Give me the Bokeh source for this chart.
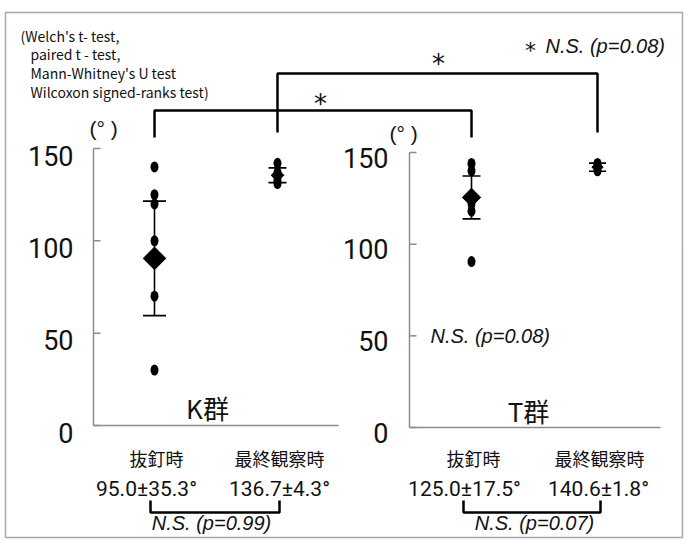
import math
from bokeh.plotting import figure
from bokeh.models import Range1d
from bokeh.embed import file_html
from bokeh.resources import INLINE
from bokeh.core.properties import value

# ---------------- data ----------------
groups = ["K群", "T群"]
timepoints = ["抜釘時", "最終観察時"]
k_pull = [140, 125, 120, 100, 70, 30]
k_final = [142, 137, 135, 133, 131]
t_pull = [144, 140, 122, 118, 90.5]
t_final = [144, 142.5, 140]
k_means = [90.5, 135.5]
k_sds = [31.0, 4.0]
t_means = [125.5, 142.0]
t_sds = [11.7, 2.2]
k_summary = ["95.0±35.3°", "136.7±4.3°"]
t_summary = ["125.0±17.5°", "140.6±1.8°"]
y_ticks = [0, 50, 100, 150]
y_tick_labels = ["0", "50", "100", "150"]
within_p = ["N.S. (p=0.99)", "N.S. (p=0.07)"]
between_marks = ["*", "*"]
t_panel_note = "N.S. (p=0.08)"
star_note = "N.S. (p=0.08)"
unit_label = "(°   )"
test_lines = ["(Welch's t- test,", "paired t - test,", "Mann-Whitney's U test",
              "Wilcoxon signed-ranks test)"]

# ---------------- layout (page pixels) ----------------
W, H = 684, 541
PX0, PY0 = 0, 0
K_AXIS_X, T_AXIS_X = 93, 409
K_X = [154, 277]
T_X = [471, 597]
K_Y0, K_Y150 = 425, 148
T_Y0, T_Y150 = 427, 152
K_BASE_END, T_BASE_END = 338, 660

JP = value("Noto Sans CJK JP")
NUM = value("Roboto")
SANS = value("Liberation Sans")
AXIS_C = "#8c8c8c"
INK = "#111111"


def yrange(y0, y150):
    s = (y0 - y150) / 150.0
    return Range1d(start=-(PY0 + H - y0) / s, end=150 + (y150 - PY0) / s)


p = figure(width=W, height=H, x_range=Range1d(PX0, PX0 + W), y_range=yrange(K_Y0, K_Y150),
           x_axis_type=None, y_axis_type=None, output_backend="svg", toolbar_location=None,
           min_border=0, outline_line_color=None,
           background_fill_color="white", border_fill_color="white")
p.extra_y_ranges = {"T": yrange(T_Y0, T_Y150), "page": Range1d(PY0 + H, PY0)}

# outer frame
p.quad(left=[5], right=[682], top=[12], bottom=[537], fill_color=None,
       line_color="#a8a8a8", line_width=1.5, y_range_name="page")


def draw_panel(rname, axis_x, base_end, xs, series, means, sds, label_right, label_off,
               mean_sizes, cap_sizes):
    kw = dict(y_range_name=rname) if rname else {}
    # axis
    p.segment(x0=[axis_x], y0=[0], x1=[axis_x], y1=[150], line_color=AXIS_C, line_width=1.5, **kw)
    p.segment(x0=[axis_x] * len(y_ticks), y0=y_ticks, x1=[axis_x + 7] * len(y_ticks), y1=y_ticks,
              line_color=AXIS_C, line_width=1.5, **kw)
    p.segment(x0=[axis_x], y0=[0], x1=[base_end], y1=[0], line_color=AXIS_C, line_width=1.5, **kw)
    p.text(x=[label_right] * len(y_ticks), y=y_ticks, text=y_tick_labels, text_align="right",
           text_baseline="middle", y_offset=label_off, text_font=NUM, text_font_size="27px",
           text_color=INK, **kw)
    for x, vals, m, s, ms, cs in zip(xs, series, means, sds, mean_sizes, cap_sizes):
        p.segment(x0=[x], y0=[m - s], x1=[x], y1=[m + s], line_color="black", line_width=1.6, **kw)
        p.scatter(x=[x, x], y=[m - s, m + s], marker="dash", size=cs, line_color="black",
                  line_width=1.6, **kw)
        p.ellipse(x=[x] * len(vals), y=vals, width=8, height=11, width_units="screen",
                  height_units="screen", fill_color="black", line_color=None, **kw)
        p.scatter(x=[x], y=[m], marker="square", angle=math.pi / 4, size=ms,
                  fill_color="black", line_color="black", **kw)


draw_panel(None, K_AXIS_X, K_BASE_END, K_X, [k_pull, k_final], k_means, k_sds, 73, 7,
           [16, 9], [23, 18])
draw_panel("T", T_AXIS_X, T_BASE_END, T_X, [t_pull, t_final], t_means, t_sds, 388, 5,
           [13, 8], [18, 17])

# brackets between groups (page units)
BR = dict(line_color="black", line_width=2.5, y_range_name="page")
p.line(x=[K_X[0], K_X[0], T_X[0], T_X[0]], y=[137, 110, 110, 137], **BR)
p.line(x=[K_X[1], K_X[1], T_X[1], T_X[1]], y=[132, 73, 73, 132], **BR)
# brackets within groups
p.line(x=[K_X[0] - 4, K_X[0] - 4, K_X[1] + 2, K_X[1] + 2], y=[500, 512, 512, 500], **BR)
p.line(x=[T_X[0] - 8, T_X[0] - 8, T_X[1] + 3, T_X[1] + 3], y=[500, 512, 512, 500], **BR)

TXT = dict(y_range_name="page", text_baseline="middle", text_color=INK)
# stars
p.text(x=[320, 438], y=[103, 63], text=between_marks, text_align="center",
       text_font=value("DejaVu Sans"), text_font_size="26px", **TXT)
p.text(x=[530], y=[50], text=["*"], text_align="center", text_font=value("DejaVu Sans"),
       text_font_size="22px", **TXT)
p.text(x=[545], y=[45], text=[star_note], text_align="left", text_font=SANS,
       text_font_style="italic", text_font_size="20px", **TXT)
p.text(x=[430], y=[335], text=[t_panel_note], text_align="left", text_font=SANS,
       text_font_style="italic", text_font_size="20px", **TXT)

# test list
p.text(x=[20, 30, 30, 30], y=[35, 53, 72, 91], text=test_lines, text_align="left",
       text_font=JP, text_font_size="14px", **TXT)

# unit labels
p.text(x=[89, 389], y=[128, 133], text=[unit_label, unit_label], text_align="left",
       text_font=SANS, text_font_size="21px", **TXT)

# group names
p.text(x=[207, 528], y=[407, 410], text=groups, text_align="center", text_font=JP,
       text_font_size="26px", **TXT)

# category labels and summaries
cat_x = K_X + T_X
p.text(x=[x + 2 for x in cat_x], y=[457] * 4, text=timepoints * 2, text_align="center",
       text_font=JP, text_font_size="18px", **TXT)
p.text(x=[K_X[0] - 8, K_X[1] + 2, T_X[0] - 7, T_X[1] + 1], y=[488] * 4,
       text=k_summary + t_summary, text_align="center", text_font=NUM,
       text_font_size="21px", **TXT)
p.text(x=[211, 534], y=[522, 522], text=within_p, text_align="center", text_font=SANS,
       text_font_style="italic", text_font_size="20px", **TXT)

open("out.html", "w").write(file_html(p, INLINE))
